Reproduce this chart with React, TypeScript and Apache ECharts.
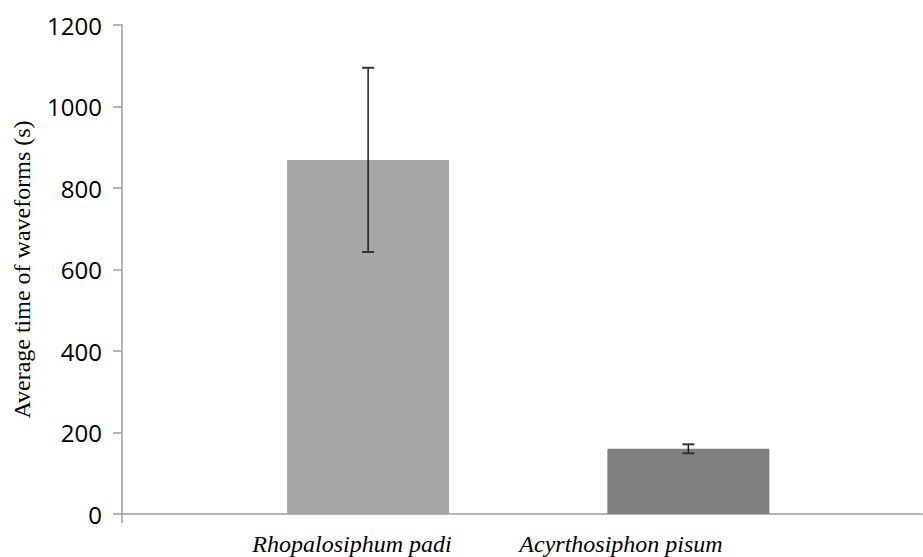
import React, { useEffect, useRef } from "react";
import * as echarts from "echarts";

const categories = ["Rhopalosiphum padi", "Acyrthosiphon pisum"];
const means = [869, 160];
const errors = [226, 11];
const barColors = ["#a6a6a6", "#808080"];
const yMin = 0;
const yMax = 1200;
const yInterval = 200;
const yAxisTitle = "Average time of waveforms (s)";

const AXIS_COLOR = "#9d9d9d";

export default function App() {
  const ref = useRef<HTMLDivElement>(null);

  useEffect(() => {
    if (!ref.current) return;
    const chart = echarts.init(ref.current, undefined, { renderer: "svg" });

    const errData = means.map((m, i) => [i, m - errors[i], m + errors[i]]);

    const option: any = {
      animation: false,
      backgroundColor: "#ffffff",
      grid: [
        { left: 122, right: 1, top: 25, bottom: 43 },
        { left: 208, right: 74.5, top: 25, bottom: 43 },
        { left: 217.5, right: 167.5, top: 25, bottom: 43 },
      ],
      xAxis: [
        {
          gridIndex: 0,
          type: "value",
          min: 0,
          max: 1,
          interval: 1,
          axisLine: { show: true, lineStyle: { color: AXIS_COLOR, width: 1.5 } },
          axisTick: { show: true, length: 9, customValues: [0], lineStyle: { color: AXIS_COLOR, width: 1.5 } },
          axisLabel: { show: false },
          splitLine: { show: false },
        },
        {
          gridIndex: 1,
          type: "category",
          data: categories,
          boundaryGap: true,
          axisLine: { show: false },
          axisTick: { show: false },
          axisLabel: { show: false },
          splitLine: { show: false },
        },
        {
          gridIndex: 2,
          type: "category",
          data: categories,
          boundaryGap: true,
          axisLine: { show: false },
          axisTick: { show: false },
          axisLabel: {
            show: true,
            margin: 18,
            color: "#000000",
            fontFamily: "Liberation Serif",
            fontStyle: "italic",
            fontSize: 24,
            interval: 0,
          },
          splitLine: { show: false },
        },
      ],
      yAxis: [
        {
          gridIndex: 0,
          type: "value",
          min: yMin,
          max: yMax,
          interval: yInterval,
          name: yAxisTitle,
          nameLocation: "middle",
          nameGap: 88,
          nameTextStyle: {
            color: "#000000",
            fontFamily: "Liberation Serif",
            fontSize: 24,
          },
          axisLine: { show: true, lineStyle: { color: AXIS_COLOR, width: 1.5 } },
          axisTick: { show: true, length: 9, inside: false, lineStyle: { color: AXIS_COLOR, width: 1.5 } },
          axisLabel: {
            color: "#000000",
            fontFamily: "Open Sans",
            fontSize: 24,
            margin: 20,
            formatter: (v: number) => String(v),
          },
          splitLine: { show: false },
        },
        {
          gridIndex: 1,
          type: "value",
          min: yMin,
          max: yMax,
          interval: yInterval,
          show: false,
        },
        {
          gridIndex: 2,
          type: "value",
          min: yMin,
          max: yMax,
          interval: yInterval,
          show: false,
        },
      ],
      series: [
        {
          type: "bar",
          xAxisIndex: 1,
          yAxisIndex: 1,
          barWidth: 162,
          data: means.map((v, i) => ({ value: v, itemStyle: { color: barColors[i] } })),
          z: 2,
        },
        {
          type: "custom",
          xAxisIndex: 1,
          yAxisIndex: 1,
          z: 5,
          data: errData,
          renderItem: (params: any, api: any) => {
            const x = api.value(0);
            const lo = api.coord([x, api.value(1)]);
            const hi = api.coord([x, api.value(2)]);
            const half = 6;
            const style = { stroke: "#1a1a1a", lineWidth: 1.5 };
            return {
              type: "group",
              children: [
                { type: "line", shape: { x1: hi[0], y1: hi[1], x2: lo[0], y2: lo[1] }, style },
                { type: "line", shape: { x1: hi[0] - half, y1: hi[1], x2: hi[0] + half, y2: hi[1] }, style: { stroke: "#333333", lineWidth: 2 } },
                { type: "line", shape: { x1: lo[0] - half, y1: lo[1], x2: lo[0] + half, y2: lo[1] }, style: { stroke: "#333333", lineWidth: 2 } },
              ],
            };
          },
        },
      ],
    };

    chart.setOption(option);
    return () => chart.dispose();
  }, []);

  return (
    <div
      ref={ref}
      style={{ position: "fixed", left: 0, top: 0, width: 923, height: 557, background: "#fff" }}
    />
  );
}
